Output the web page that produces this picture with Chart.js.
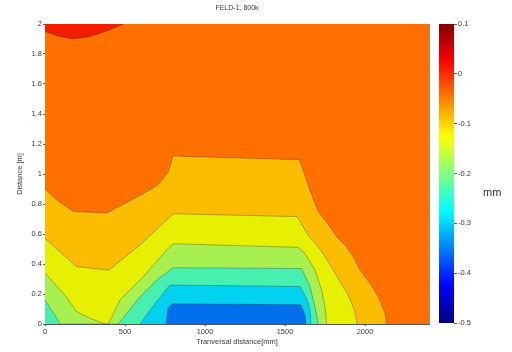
<!DOCTYPE html>
<html>
<head>
<meta charset="utf-8">
<script src="https://cdn.jsdelivr.net/npm/chart.js@4/dist/chart.umd.min.js"></script>
<style>
  html, body { margin: 0; padding: 0; background: #fff; }
  #wrap { position: relative; width: 512px; height: 352px; overflow: hidden; background: #fff; }
  #main { position: absolute; left: 0; top: 0; }
  #cbar { position: absolute; left: 430px; top: 0; }
  #unit { position: absolute; left: 483px; top: 186px; font: 11px "Liberation Sans", Arial, sans-serif; color: #333; }
</style>
</head>
<body>
<div id="wrap">
  <canvas id="main" width="512" height="352"></canvas>
  <canvas id="cbar" width="82" height="352"></canvas>
  <div id="unit">mm</div>
</div>
<script>
// Settlement field, filled contours. Each iso-line below is given as
// (transversal distance [mm], distance [m]) pairs; the band below a line
// holds values lower than that line's level.

const xTicks = [0, 500, 1000, 1500, 2000];
const yTicks = [0, 0.2, 0.4, 0.6, 0.8, 1, 1.2, 1.4, 1.6, 1.8, 2];
const cbTicks = [-0.5, -0.4, -0.3, -0.2, -0.1, 0, 0.1];

const xRange = [0, 2400];
const yRange = [0, 2];
const cRange = [-0.5, 0.1];

// field extent (level band -0.05 .. 0)
const fieldX = [0, 2400];
const fieldY = [2, 2];

// level 0 (values above it at the top left)
const iso000X = [0, 80, 170, 280, 390, 490];
const iso000Y = [1.95, 1.92, 1.90, 1.915, 1.955, 2.0];

// level -0.05
const iso005X = [0, 70, 177, 385, 600, 708, 771, 800, 1590, 1656, 1708, 1781, 1823, 1885, 1927, 1969, 2031, 2083, 2125, 2135];
const iso005Y = [0.90, 0.83, 0.75, 0.74, 0.86, 0.93, 1.015, 1.12, 1.095, 0.893, 0.749, 0.649, 0.582, 0.515, 0.449, 0.36, 0.271, 0.182, 0.071, 0];

// level -0.10
const iso010X = [0, 198, 400, 594, 802, 1575, 1646, 1725, 1790, 1850, 1892, 1935, 1950];
const iso010Y = [0.571, 0.382, 0.36, 0.527, 0.735, 0.716, 0.59, 0.49, 0.38, 0.27, 0.2, 0.09, 0];

// level -0.15
const iso015X = [0, 125, 198, 281, 375, 395, 469, 615, 760, 802, 1583, 1625, 1687, 1729, 1750, 1760];
const iso015Y = [0.338, 0.193, 0.082, 0.038, 0, 0, 0.16, 0.315, 0.493, 0.535, 0.511, 0.47, 0.36, 0.227, 0.116, 0];

// level -0.20
const iso020X = [0, 62, 94, 458, 594, 698, 800, 1604, 1656, 1687, 1708];
const iso020Y = [0.16, 0.06, 0, 0, 0.182, 0.293, 0.375, 0.37, 0.25, 0.116, 0];

// level -0.25
const iso025X = [594, 690, 781, 1594, 1635, 1656, 1662];
const iso025Y = [0, 0.14, 0.26, 0.25, 0.17, 0.1, 0];

// level -0.30
const iso030X = [755, 770, 800, 1600, 1625, 1632];
const iso030Y = [0, 0.11, 0.135, 0.128, 0.06, 0];

const FONT = "'Liberation Sans', Arial, Helvetica, sans-serif";
const TEXT = '#3c3c3c';
const EDGE = 'rgba(50,50,50,0.45)';

// MATLAB-style jet colormap, f in [0,1]
function jet(f) {
  const c = v => Math.round(255 * Math.max(0, Math.min(1, v)));
  const r = Math.min(4 * f - 1.5, -4 * f + 4.5);
  const g = Math.min(4 * f - 0.5, -4 * f + 3.5);
  const b = Math.min(4 * f + 0.5, -4 * f + 2.5);
  return `rgb(${c(r)},${c(g)},${c(b)})`;
}

const bandColor = {
  above0: '#f21c00',
  m005: '#ff7000',
  m010: '#fcbc00',
  m015: '#e6f000',
  m020: '#a8f050',
  m025: '#48f0b0',
  m030: '#00d2f0',
  low: '#0070ec'
};

function pts(xs, ys) { return xs.map((x, i) => ({ x, y: ys[i] })); }
function band(label, xs, ys, color, fill, bw) {
  return {
    label, data: pts(xs, ys), fill,
    backgroundColor: color, borderColor: EDGE,
    borderWidth: bw === undefined ? 0.8 : bw,
    pointRadius: 0, tension: 0
  };
}

// first dataset is painted last (on top)
const datasets = [
  band('> 0', iso000X, iso000Y, bandColor.above0, 'end'),
  band('< -0.30', iso030X, iso030Y, bandColor.low, 'origin'),
  band('< -0.25', iso025X, iso025Y, bandColor.m030, 'origin'),
  band('< -0.20', iso020X, iso020Y, bandColor.m025, 'origin'),
  band('< -0.15', iso015X, iso015Y, bandColor.m020, 'origin'),
  band('< -0.10', iso010X, iso010Y, bandColor.m015, 'origin'),
  band('< -0.05', iso005X, iso005Y, bandColor.m010, 'origin'),
  band('field', fieldX, fieldY, bandColor.m005, 'origin', 0)
];

const tickFont = { family: FONT, size: 7.5 };
const setTicks = arr => s => { s.ticks = arr.map(v => ({ value: v })); };
const plain = v => String(Math.round(v * 100) / 100);

new Chart(document.getElementById('main'), {
  type: 'line',
  data: { datasets },
  options: {
    responsive: false,
    animation: false,
    events: [],
    layout: { padding: { left: 0, right: 83, top: 0, bottom: 0 } },
    plugins: {
      legend: { display: false },
      tooltip: { enabled: false },
      title: {
        display: true, text: 'FELD-1, 800k', fullSize: false,
        font: { family: FONT, size: 7, weight: 'normal' }, color: TEXT,
        padding: { top: 4, bottom: 11.6 }
      }
    },
    scales: {
      x: {
        type: 'linear', min: xRange[0], max: xRange[1],
        afterBuildTicks: setTicks(xTicks),
        afterFit: s => { s.height = 28; },
        grid: { display: true, drawOnChartArea: false, drawTicks: true, tickLength: 2, color: '#666' },
        border: { display: true, color: '#555', width: 1 },
        ticks: { font: tickFont, color: TEXT, padding: 1, maxRotation: 0, autoSkip: false, callback: plain },
        title: { display: true, text: 'Tranversal distance[mm]', font: tickFont, color: TEXT, padding: { top: 0, bottom: 5.5 } }
      },
      y: {
        type: 'linear', min: yRange[0], max: yRange[1],
        afterBuildTicks: setTicks(yTicks),
        afterFit: s => { s.width = 45; },
        grid: { display: true, drawOnChartArea: false, drawTicks: true, tickLength: 2, color: '#666' },
        border: { display: true, color: '#555', width: 1 },
        ticks: { font: tickFont, color: TEXT, padding: 1, autoSkip: false, callback: plain },
        title: { display: true, text: 'Distance [m]', font: tickFont, color: TEXT, padding: { top: 15.5, bottom: 0 } }
      },
      xTop: {
        type: 'linear', position: 'top', min: xRange[0], max: xRange[1],
        afterFit: s => { s.height = 0; },
        grid: { display: false, drawTicks: false },
        border: { display: true, color: '#555', width: 1 },
        ticks: { display: false }
      },
      yRight: {
        type: 'linear', position: 'right', min: yRange[0], max: yRange[1],
        afterFit: s => { s.width = 0; },
        grid: { display: false, drawTicks: false },
        border: { display: true, color: '#777', width: 0.8 },
        ticks: { display: false }
      }
    }
  }
});

// colour bar: one floating bar spanning the colour range, painted with jet
function jetGradient(ctx) {
  const chart = ctx.chart;
  const s = chart.scales && chart.scales.y;
  if (!s || !chart.chartArea) return jet(0.5);
  const g = chart.ctx.createLinearGradient(0, s.getPixelForValue(cRange[0]), 0, s.getPixelForValue(cRange[1]));
  for (let i = 0; i <= 64; i++) g.addColorStop(i / 64, jet(i / 64));
  return g;
}

new Chart(document.getElementById('cbar'), {
  type: 'bar',
  data: {
    labels: [''],
    datasets: [{
      data: [[cRange[0], cRange[1]]],
      backgroundColor: jetGradient,
      borderWidth: 0,
      barPercentage: 1,
      categoryPercentage: 1
    }]
  },
  options: {
    responsive: false,
    animation: false,
    events: [],
    layout: { padding: { left: 9, right: 0, top: 24, bottom: 29 } },
    plugins: { legend: { display: false }, tooltip: { enabled: false } },
    scales: {
      x: { display: false },
      y: {
        position: 'right', min: cRange[0], max: cRange[1],
        afterBuildTicks: setTicks(cbTicks),
        afterFit: s => { s.width = 58; },
        grid: { display: true, drawOnChartArea: false, drawTicks: true, tickLength: 3, color: '#666' },
        border: { display: false },
        ticks: { font: tickFont, color: TEXT, padding: 1, autoSkip: false, callback: v => String(Math.round(v * 10) / 10) }
      }
    }
  }
});
</script>
</body>
</html>
